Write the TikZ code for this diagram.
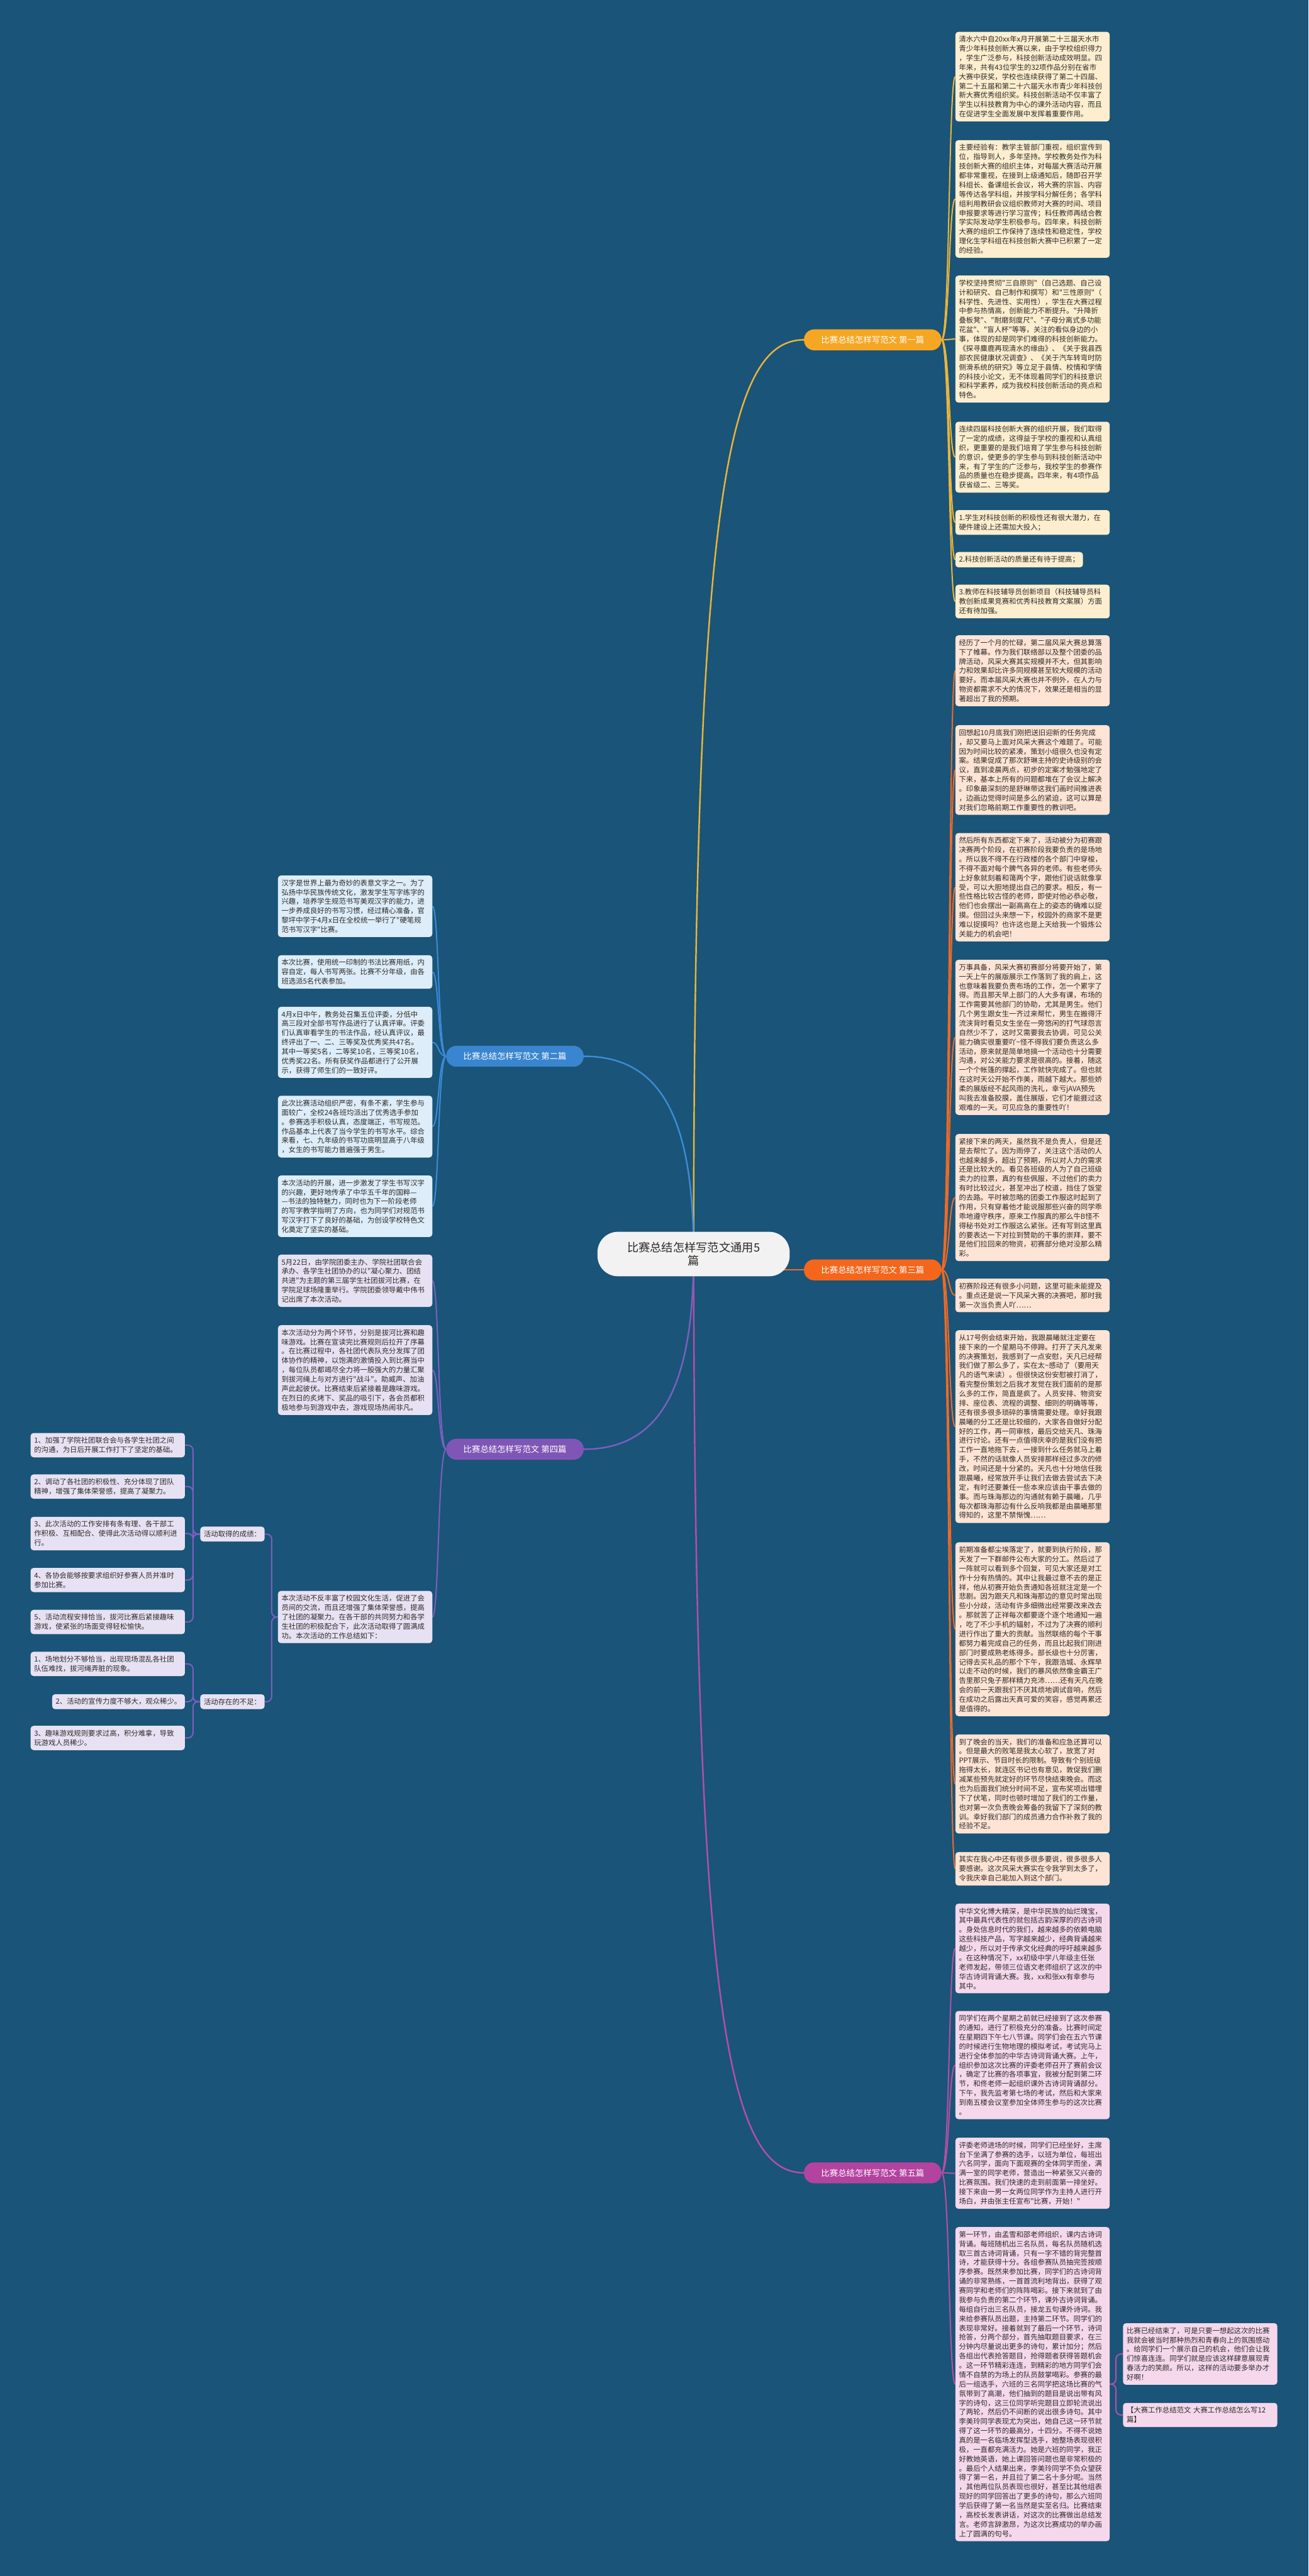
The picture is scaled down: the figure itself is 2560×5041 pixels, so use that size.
\documentclass[tikz,border=0pt]{standalone}
\usepackage{fontspec}
\newfontfamily\cjk{Noto Sans CJK SC}
\usetikzlibrary{calc,backgrounds}
\definecolor{bgc}{HTML}{1A5478}
\definecolor{yline}{HTML}{EBB53B}
\definecolor{ylab}{HTML}{F5A623}
\definecolor{yfill}{HTML}{FCEECF}
\definecolor{oline}{HTML}{EE6A25}
\definecolor{olab}{HTML}{F4661B}
\definecolor{ofill}{HTML}{FDE4D5}
\definecolor{bline}{HTML}{3C8BD8}
\definecolor{blab}{HTML}{3A85CF}
\definecolor{bfill}{HTML}{DDEDF9}
\definecolor{pline}{HTML}{7B5FC0}
\definecolor{plab}{HTML}{7F56B6}
\definecolor{pfill}{HTML}{E7E2F3}
\definecolor{mline}{HTML}{B44FA6}
\definecolor{mlab}{HTML}{B3439F}
\definecolor{mfill}{HTML}{F5D8EC}
\definecolor{rootfill}{HTML}{F2F2F2}
\definecolor{boxtext}{HTML}{2E2A28}
\newcommand\boxfont{\cjk\fontsize{14}{18.3}\selectfont}
\newcommand\labfont{\cjk\fontsize{16.5}{20}\selectfont}
\newcommand\rootfont{\cjk\fontsize{22.5}{27}\selectfont}
\newcommand\rlink[3]{\draw[#1] (#2.east) .. controls ($(#2.east)+(16,0)$) and ($(#3.west)+(-13,0)$) .. (#3.west);}
\newcommand\llink[3]{\draw[#1] (#2.west) .. controls ($(#2.west)+(-16,0)$) and ($(#3.east)+(13,0)$) .. (#3.east);}
\tikzset{
  boxbase/.style={rounded corners=6pt, inner xsep=7pt, inner ysep=8pt, align=left, font=\boxfont, text=boxtext},
  box/.style={boxbase, text width=288pt},
  ybox/.style={box, fill=yfill, anchor=north west},
  obox/.style={box, fill=ofill, anchor=north west},
  mbox/.style={box, fill=mfill, anchor=north west},
  bbox/.style={box, fill=bfill, anchor=north east},
  pbox/.style={box, fill=pfill, anchor=north east},
  lab/.style={rounded corners=20pt, minimum width=269pt, minimum height=41pt, inner sep=0pt, text=white, font=\labfont},
  cl/.style={line width=3pt},
  kl/.style={line width=2.5pt},
  el/.style={line width=2.5pt, rounded corners=10pt}
}
\begin{document}
\begin{tikzpicture}[x=1pt,y=-1pt]
\useasboundingbox (0,0) rectangle (2560,5041);
\begin{pgfonlayer}{background}
\fill[bgc] (0,0) rectangle (2560,5041);
\end{pgfonlayer}

% root and branch labels
\node[fill=rootfill, rounded corners=40pt, minimum width=376pt, minimum height=87pt, inner sep=0pt, align=center, font=\rootfont, text=boxtext] (root) at (1357,2454) {比赛总结怎样写范文通用5\\篇};
\node[lab, fill=ylab] (l1) at (1707.5,665) {比赛总结怎样写范文 第一篇};
\node[lab, fill=olab] (l3) at (1707.5,2485) {比赛总结怎样写范文 第三篇};
\node[lab, fill=mlab] (l5) at (1707.5,4252) {比赛总结怎样写范文 第五篇};
\node[lab, fill=blab] (l2) at (1007.5,2067) {比赛总结怎样写范文 第二篇};
\node[lab, fill=plab] (l4) at (1007.5,2836) {比赛总结怎样写范文 第四篇};

% branch 1
\node[ybox] (a1) at (1869,62) {清水六中自20xx年x月开展第二十三届天水市\\青少年科技创新大赛以来，由于学校组织得力\\，学生广泛参与，科技创新活动成效明显。四\\年来，共有43位学生的32项作品分别在省市\\大赛中获奖，学校也连续获得了第二十四届、\\第二十五届和第二十六届天水市青少年科技创\\新大赛优秀组织奖。科技创新活动不仅丰富了\\学生以科技教育为中心的课外活动内容，而且\\在促进学生全面发展中发挥着重要作用。};
\node[ybox] (a2) at (1869,274) {主要经验有：教学主管部门重视，组织宣传到\\位，指导到人，多年坚持。学校教务处作为科\\技创新大赛的组织主体，对每届大赛活动开展\\都非常重视，在接到上级通知后，随即召开学\\科组长、备课组长会议，将大赛的宗旨、内容\\等传达各学科组，并按学科分解任务；各学科\\组利用教研会议组织教师对大赛的时间、项目\\申报要求等进行学习宣传；科任教师再结合教\\学实际发动学生积极参与。四年来，科技创新\\大赛的组织工作保持了连续性和稳定性，学校\\理化生学科组在科技创新大赛中已积累了一定\\的经验。};
\node[ybox] (a3) at (1869,539) {学校坚持贯彻"三自原则"（自己选题、自己设\\计和研究、自己制作和撰写）和"三性原则"（\\科学性、先进性、实用性），学生在大赛过程\\中参与热情高，创新能力不断提升。"升降折\\叠板凳"、"耐磨刻度尺"、"子母分离式多功能\\花盆"、"盲人杯"等等，关注的看似身边的小\\事，体现的却是同学们难得的科技创新能力。\\《探寻麋鹿再现清水的缘由》、《关于我县西\\部农民健康状况调查》、《关于汽车转弯时防\\侧滑系统的研究》等立足于县情、校情和学情\\的科技小论文，无不体现着同学们的科技意识\\和科学素养，成为我校科技创新活动的亮点和\\特色。};
\node[ybox] (a4) at (1869,825) {连续四届科技创新大赛的组织开展，我们取得\\了一定的成绩，这得益于学校的重视和认真组\\织，更重要的是我们培育了学生参与科技创新\\的意识，使更多的学生参与到科技创新活动中\\来，有了学生的广泛参与，我校学生的参赛作\\品的质量也在稳步提高。四年来，有4项作品\\获省级二、三等奖。};
\node[ybox] (a5) at (1869,998) {1.学生对科技创新的积极性还有很大潜力，在\\硬件建设上还需加大投入；};
\node[boxbase, fill=yfill, anchor=north west] (a6) at (1869,1080) {2.科技创新活动的质量还有待于提高；};
\node[ybox] (a7) at (1869,1144) {3.教师在科技辅导员创新项目（科技辅导员科\\教创新成果竞赛和优秀科技教育文案展）方面\\还有待加强。};

% branch 3
\node[obox] (b1) at (1869,1243) {经历了一个月的忙碌，第二届风采大赛总算落\\下了帷幕。作为我们联络部以及整个团委的品\\牌活动，风采大赛其实规模并不大，但其影响\\力和效果却比许多同规模甚至较大规模的活动\\要好。而本届风采大赛也并不例外，在人力与\\物资都需求不大的情况下，效果还是相当的显\\著超出了我的预期。};
\node[obox] (b2) at (1869,1419) {回想起10月底我们刚把送旧迎新的任务完成\\，却又要马上面对风采大赛这个难题了。可能\\因为时间比较的紧凑，策划小组很久也没有定\\案。结果促成了那次舒琳主持的史诗级别的会\\议，直到凌晨两点，初步的定案才勉强地定了\\下来，基本上所有的问题都堆在了会议上解决\\。印象最深刻的是舒琳带这我们画时间推进表\\，边画边觉得时间是多么的紧迫，这可以算是\\对我们忽略前期工作重要性的教训吧。};
\node[obox] (b3) at (1869,1630) {然后所有东西都定下来了，活动被分为初赛跟\\决赛两个阶段，在初赛阶段我要负责的是场地\\。所以我不得不在行政楼的各个部门中穿梭，\\不得不面对每个脾气各异的老师。有些老师头\\上好象就刻着和蔼两个字，跟他们说话就像享\\受，可以大胆地提出自己的要求。相反，有一\\些性格比较古怪的老师，即使对他必恭必敬，\\他们也会摆出一副高高在上的姿态的确难以捉\\摸。但回过头来想一下，校园外的商家不是更\\难以捉摸吗？也许这也是上天给我一个锻炼公\\关能力的机会吧！};
\node[obox] (b4) at (1869,1878) {万事具备，风采大赛初赛部分将要开始了，第\\一天上午的展版展示工作落到了我的肩上，这\\也意味着我要负责布场的工作，怎一个累字了\\得。而且那天早上部门的人大多有课，布场的\\工作需要其他部门的协助，尤其是男生。他们\\几个男生跟女生一齐过来帮忙，男生在搬得汗\\流浃背时看见女生坐在一旁悠闲的打气球怨言\\自然少不了，这时又需要我去协调，可见公关\\能力确实很重要吖\textasciitilde{}怪不得我们要负责这么多\\活动，原来就是简单地搞一个活动也十分需要\\沟通，对公关能力要求是很高的。接着，随这\\一个个帐篷的撑起，工作就快完成了。但也就\\在这时天公开始不作美，雨越下越大。那些娇\\柔的展版经不起风雨的洗礼，幸亏jAVA预先\\叫我去准备胶膜，盖住展版，它们才能捱过这\\艰难的一天。可见应急的重要性吖！};
\node[obox] (b5) at (1869,2219) {紧接下来的两天，虽然我不是负责人，但是还\\是去帮忙了。因为雨停了，关注这个活动的人\\也越来越多，超出了预期，所以对人力的需求\\还是比较大的。看见各班级的人为了自己班级\\卖力的拉票，真的有些佩服，不过他们的卖力\\有时比较过火，甚至冲出了校道，挡住了饭堂\\的去路。平时被忽略的团委工作服这时起到了\\作用，只有穿着他才能说服那些兴奋的同学乖\\乖地遵守秩序，原来工作服真的那么牛B怪不\\得秘书处对工作服这么紧张。还有写到这里真\\的要表达一下对拉到赞助的干事的崇拜，要不\\是他们拉回来的物资，初赛部分绝对没那么精\\彩。};
\node[obox] (b6) at (1869,2502) {初赛阶段还有很多小问题，这里可能未能提及\\。重点还是说一下风采大赛的决赛吧，那时我\\第一次当负责人吖……};
\node[obox] (b7) at (1869,2603) {从17号例会结束开始，我跟晨曦就注定要在\\接下来的一个星期马不停蹄。打开了天凡发来\\的决赛策划，我感到了一点安慰，天凡已经帮\\我们做了那么多了，实在太\textasciitilde{}感动了（要用天\\凡的语气来读）。但很快这份安慰被打消了，\\看完整份策划之后我才发觉在我们面前的是那\\么多的工作，简直是疯了。人员安排、物资安\\排、座位表、流程的调整、细则的明确等等，\\还有很多很多琐碎的事情需要处理。幸好我跟\\晨曦的分工还是比较细的，大家各自做好分配\\好的工作，再一同审核，最后交给天凡、珠海\\进行讨论。还有一点值得庆幸的是我们没有把\\工作一直地拖下去，一接到什么任务就马上着\\手，不然的话就像人员安排那样经过多次的修\\改，时间还是十分紧的。天凡也十分地信任我\\跟晨曦，经常放开手让我们去做去尝试去下决\\定，有时还要兼任一些本来应该由干事去做的\\事。而与珠海那边的沟通就有赖于晨曦，几乎\\每次都珠海那边有什么反响我都是由晨曦那里\\得知的，这里不禁惭愧……};
\node[obox] (b8) at (1869,3018) {前期准备都尘埃落定了，就要到执行阶段，那\\天发了一下群邮件公布大家的分工。然后过了\\一阵就可以看到多个回复，可见大家还是对工\\作十分有热情的。其中让我最过意不去的是正\\祥，他从初赛开始负责通知各班就注定是一个\\悲剧。因为跟天凡和珠海那边的意见时常出现\\些小分歧，活动有许多细微出经常要改来改去\\。那就苦了正祥每次都要逐个逐个地通知一遍\\，吃了不少手机的辐射，不过为了决赛的顺利\\进行作出了重大的贡献。当然联络的每个干事\\都努力着完成自己的任务，而且比起我们刚进\\部门时要成熟老练得多。部长级也十分厉害，\\记得去买礼品的那个下午，我跟浩城、永辉早\\以走不动的时候，我们的暴风依然像金霸王广\\告里那只兔子那样精力充沛……还有天凡在晚\\会的前一天跟我们不厌其烦地调试音响，然后\\在成功之后露出天真可爱的笑容，感觉再累还\\是值得的。};
\node[obox] (b9) at (1869,3394) {到了晚会的当天，我们的准备和应急还算可以\\。但是最大的败笔是我太心软了，放宽了对\\PPT展示、节目时长的限制。导致有个别班级\\拖得太长，就连区书记也有意见，敦促我们删\\减某些预先就定好的环节尽快结束晚会。而这\\也为后面我们统分时间不足，宣布奖项出错埋\\下了伏笔，同时也顿时增加了我们的工作量，\\也对第一次负责晚会筹备的我留下了深刻的教\\训。幸好我们部门的成员通力合作补救了我的\\经验不足。};
\node[obox] (b10) at (1869,3624) {其实在我心中还有很多很多要说，很多很多人\\要感谢。这次风采大赛实在令我学到太多了，\\令我庆幸自己能加入到这个部门。};

% branch 5
\node[mbox] (p1) at (1869,3725) {中华文化博大精深，是中华民族的灿烂瑰宝，\\其中最具代表性的就包括古韵深厚的的古诗词\\。身处信息时代的我们，越来越多的依赖电脑\\这些科技产品，写字越来越少，经典背诵越来\\越少，所以对于传承文化经典的呼吁越来越多\\。在这种情况下，xx初级中学八年级主任张\\老师发起，带领三位语文老师组织了这次的中\\华古诗词背诵大赛。我，xx和张xx有幸参与\\其中。};
\node[mbox] (p2) at (1869,3935) {同学们在两个星期之前就已经接到了这次参赛\\的通知，进行了积极充分的准备。比赛时间定\\在星期四下午七八节课。同学们会在五六节课\\的时候进行生物地理的模拟考试，考试完马上\\进行全体参加的中华古诗词背诵大赛。上午，\\组织参加这次比赛的评委老师召开了赛前会议\\，确定了比赛的各项事宜，我被分配到第二环\\节，和佟老师一起组织课外古诗词背诵部分。\\下午，我先监考第七场的考试，然后和大家来\\到南五楼会议室参加全体师生参与的这次比赛\\。};
\node[mbox] (p3) at (1869,4183) {评委老师进场的时候，同学们已经坐好，主席\\台下坐满了参赛的选手，以班为单位，每班出\\六名同学，面向下面观赛的全体同学而坐，满\\满一室的同学老师，营造出一种紧张又兴奋的\\比赛氛围。我们快速的走到前面第一排坐好。\\接下来由一男一女两位同学作为主持人进行开\\场白，并由张主任宣布"比赛，开始！"};
\node[mbox] (p4) at (1869,4358) {第一环节，由孟雪和邵老师组织，课内古诗词\\背诵。每班随机出三名队员，每名队员随机选\\取三首古诗词背诵，只有一字不错的背完整首\\诗，才能获得十分。各组参赛队员抽完签按顺\\序参赛。既然来参加比赛，同学们的古诗词背\\诵的非常熟练，一首首流利地背出，获得了观\\赛同学和老师们的阵阵喝彩。接下来就到了由\\我参与负责的第二个环节，课外古诗词背诵。\\每组自行出三名队员，接龙五句课外诗词。我\\来给参赛队员出题，主持第二环节。同学们的\\表现非常好。接着就到了最后一个环节，诗词\\抢答，分两个部分，首先抽取题目要求，在三\\分钟内尽量说出更多的诗句，累计加分；然后\\各组出代表抢答题目，抢得题者获得答题机会\\。这一环节精彩连连，到精彩的地方同学们会\\情不自禁的为场上的队员鼓掌喝彩。参赛的最\\后一组选手，六班的三名同学把这场比赛的气\\氛带到了高潮，他们抽到的题目是说出带有风\\字的诗句，这三位同学听完题目立即轮流说出\\了两轮，然后仍不间断的说出很多诗句。其中\\李美玲同学表现尤为突出，她自己这一环节就\\得了这一环节的最高分，十四分。不得不说她\\真的是一名临场发挥型选手，她整场表现很积\\极，一直都充满活力。她是六班的同学，我正\\好教她英语，她上课回答问题也是非常积极的\\。最后个人结果出来，李美玲同学不负众望获\\得了第一名，并且拉了第二名十多分呢。当然\\，其他两位队员表现也很好，甚至比其他组表\\现好的同学回答出了更多的诗句，那么六班同\\学后获得了第一名当然是实至名归。比赛结束\\，高校长发表讲话，对这次的比赛做出总结发\\言。老师言辞激昂，为这次比赛成功的举办画\\上了圆满的句号。};
\node[mbox] (p5) at (2197,4546) {比赛已经结束了，可是只要一想起这次的比赛\\我就会被当时那种热烈和青春向上的氛围感动\\。给同学们一个展示自己的机会，他们会让我\\们惊喜连连。同学们就是应该这样肆意展现青\\春活力的笑颜。所以，这样的活动要多举办才\\好啊！};
\node[mbox] (p6) at (2197,4702) {【大赛工作总结范文~大赛工作总结怎么写12\\篇】};

% branch 2
\node[bbox] (d1) at (846,1713) {汉字是世界上最为奇妙的表意文字之一。为了\\弘扬中华民族传统文化，激发学生写字练字的\\兴趣，培养学生规范书写美观汉字的能力，进\\一步养成良好的书写习惯，经过精心准备，官\\黎坪中学于4月x日在全校统一举行了"硬笔规\\范书写汉字"比赛。};
\node[bbox] (d2) at (846,1869) {本次比赛，使用统一印制的书法比赛用纸，内\\容自定，每人书写两张。比赛不分年级，由各\\班选派5名代表参加。};
\node[bbox] (d3) at (846,1970) {4月x日中午，教务处召集五位评委，分低中\\高三段对全部书写作品进行了认真评审。评委\\们认真审看学生的书法作品，经认真评议，最\\终评出了一、二、三等奖及优秀奖共47名。\\其中一等奖5名，二等奖10名，三等奖10名，\\优秀奖22名。所有获奖作品都进行了公开展\\示，获得了师生们的一致好评。};
\node[bbox] (d4) at (846,2144) {此次比赛活动组织严密，有条不紊，学生参与\\面较广，全校24各班均派出了优秀选手参加\\。参赛选手积极认真，态度端正，书写规范。\\作品基本上代表了当今学生的书写水平。综合\\来看，七、九年级的书写功底明显高于八年级\\，女生的书写能力普遍强于男生。};
\node[bbox] (d5) at (846,2300) {本次活动的开展，进一步激发了学生书写汉字\\的兴趣，更好地传承了中华五千年的国粹—\\—书法的独特魅力，同时也为下一阶段老师\\的写字教学指明了方向，也为同学们对规范书\\写汉字打下了良好的基础，为创设学校特色文\\化奠定了坚实的基础。};

% branch 4
\node[pbox] (e1) at (846,2455) {5月22日，由学院团委主办、学院社团联合会\\承办、各学生社团协办的以"凝心聚力、团结\\共进"为主题的第三届学生社团拔河比赛，在\\学院足球场隆重举行。学院团委领导戴中伟书\\记出席了本次活动。};
\node[pbox] (e2) at (846,2593) {本次活动分为两个环节，分别是拔河比赛和趣\\味游戏。比赛在宣读完比赛规则后拉开了序幕\\。在比赛过程中，各社团代表队充分发挥了团\\体协作的精神，以饱满的激情投入到比赛当中\\，每位队员都竭尽全力将一股强大的力量汇聚\\到拔河绳上与对方进行"战斗"。助威声、加油\\声此起彼伏。比赛结束后紧接着是趣味游戏。\\在烈日的炙烤下、奖品的吸引下，各会员都积\\极地参与到游戏中去，游戏现场热闹非凡。};
\node[pbox] (e3) at (846,3113) {本次活动不反丰富了校园文化生活，促进了会\\员间的交流，而且还增强了集体荣誉感，提高\\了社团的凝聚力。在各干部的共同努力和各学\\生社团的积极配合下，此次活动取得了圆满成\\功。本次活动的工作总结如下：};
\node[boxbase, fill=pfill, anchor=east] (s1) at (518,3002) {活动取得的成绩：};
\node[boxbase, fill=pfill, anchor=east] (s2) at (518,3330) {活动存在的不足：};
\node[pbox] (t1) at (362,2804) {1、加强了学院社团联合会与各学生社团之间\\的沟通，为日后开展工作打下了坚定的基础。};
\node[pbox] (t2) at (362,2885) {2、调动了各社团的积极性、充分体现了团队\\精神，增强了集体荣誉感，提高了凝聚力。};
\node[pbox] (t3) at (362,2968) {3、此次活动的工作安排有条有理、各干部工\\作积极、互相配合、使得此次活动得以顺利进\\行。};
\node[pbox] (t4) at (362,3068) {4、各协会能够按要求组织好参赛人员并准时\\参加比赛。};
\node[pbox] (t5) at (362,3150) {5、活动流程安排恰当，拔河比赛后紧接趣味\\游戏，使紧张的场面变得轻松愉快。};
\node[pbox] (u1) at (362,3232) {1、场地划分不够恰当，出现现场混乱各社团\\队伍难找，拔河绳弄脏的现象。};
\node[boxbase, fill=pfill, anchor=east] (u2) at (362,3330) {2、活动的宣传力度不够大，观众稀少。};
\node[pbox] (u3) at (362,3377) {3、趣味游戏规则要求过高，积分难拿，导致\\玩游戏人员稀少。};

\begin{pgfonlayer}{background}
% root to labels
\draw[cl, yline] (root.center) .. controls (1358,1000) and (1420,665) .. (l1.west);
\draw[cl, mline] (root.center) .. controls (1360,3910) and (1420,4252) .. (l5.west);
\draw[cl, oline] (root.center |- l3.west) -- (l3.west);
\draw[cl, bline] (l2.east) .. controls (1300,2067) and (1357,2200) .. (root.center);
\draw[cl, pline] (l4.east) .. controls (1300,2836) and (1357,2700) .. (root.center);
% label to children
\foreach \n in {a1,a2,a3,a4,a5,a6,a7} {\rlink{kl, yline}{l1}{\n}}
\foreach \n in {b1,b2,b3,b4,b5,b6,b7,b8,b9,b10} {\rlink{kl, oline}{l3}{\n}}
\foreach \n in {p1,p2,p3,p4} {\rlink{kl, mline}{l5}{\n}}
\foreach \n in {d1,d2,d3,d4,d5} {\llink{kl, bline}{l2}{\n}}
\foreach \n in {e1,e2,e3} {\llink{kl, pline}{l4}{\n}}
% elbows
\foreach \n in {p5,p6} {\draw[el, mline] (p4.east) -- ++(12,0) |- (\n.west);}
\foreach \n in {s1,s2} {\draw[el, pline] (e3.west) -- ++(-12,0) |- (\n.east);}
\foreach \n in {t1,t2,t3,t4,t5} {\draw[el, pline] (s1.west) -- ++(-14,0) |- (\n.east);}
\foreach \n in {u1,u2,u3} {\draw[el, pline] (s2.west) -- ++(-14,0) |- (\n.east);}
\end{pgfonlayer}
\end{tikzpicture}
\end{document}
